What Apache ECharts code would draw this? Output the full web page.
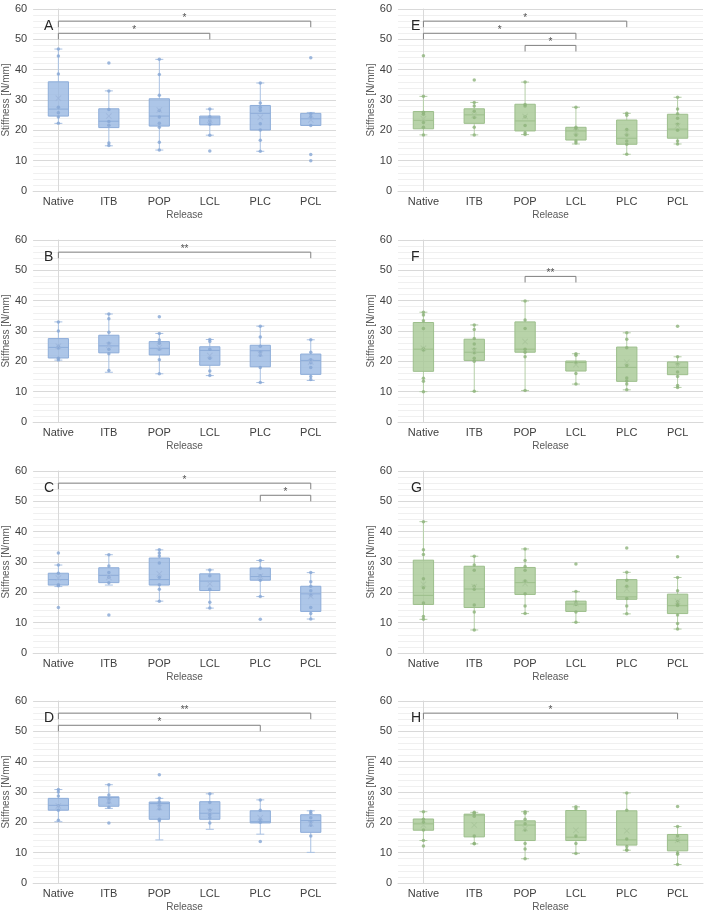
<!DOCTYPE html>
<html><head><meta charset="utf-8">
<script src="https://cdn.jsdelivr.net/npm/echarts@6/dist/echarts.min.js"></script>
<style>html,body{margin:0;padding:0;background:#fff}#c{width:709px;height:916px}</style>
</head><body><div id="c"></div>
<script>
const categories = ['Native','ITB','POP','LCL','PLC','PCL'];
const panelLetters = ['A','B','C','D','E','F','G','H'];
const yTicks = [0,10,20,30,40,50,60];

// boxes: [min, Q1, median, Q3, max] per category
const boxA = [[22.3,24.7,27.0,36.0,46.8],[14.9,20.9,23.0,27.1,33.0],[13.5,21.4,24.7,30.4,43.4],[18.4,21.8,24.1,24.7,27.0],[13.1,20.1,25.6,28.2,35.6],[21.6,21.6,23.8,25.6,25.9]];
const meanA = [30.6,24.7,26.7,23.3,24.3,23.4];
const ptsA = [[46.8,44.5,38.6,27.6,25.8,24.4,22.3],[42.2,33.0,26.9,22.9,21.7,15.8,15.0],[43.4,38.4,31.6,26.5,24.4,22.3,21.0,16.1,13.5],[27.0,24.5,23.1,22.0,18.4,13.2],[35.6,29.0,27.5,26.5,22.2,20.1,16.7,13.1],[43.9,25.5,24.5,21.6,12.0,10.0]];

const boxB = [[20.4,21.1,24.6,27.5,33.0],[16.4,22.8,25.1,28.6,35.6],[15.9,22.1,24.3,26.5,29.2],[15.3,18.7,23.6,24.8,27.2],[13.0,18.2,23.5,25.3,31.6],[13.7,15.7,20.3,22.4,27.1]];
const meanB = [25.0,25.3,24.6,21.9,22.5,19.8];
const ptsB = [[33.0,30.0,25.0,24.4,21.0,20.4],[35.6,34.0,29.6,26.0,24.0,22.5,17.0],[34.7,29.2,27.0,26.0,24.0,20.5,15.9],[27.2,26.5,24.0,21.0,16.8,15.3],[31.6,28.0,25.0,23.0,22.0,18.0,13.0],[27.1,23.0,20.5,19.5,18.0,15.0,14.0]];

const boxC = [[21.9,22.4,24.2,26.3,29.0],[22.4,23.2,25.6,28.1,32.4],[17.1,22.4,24.2,31.3,34.0],[14.8,20.6,23.7,26.1,27.4],[18.6,24.0,25.2,28.0,30.5],[11.2,13.7,19.5,22.0,26.5]];
const meanC = [24.7,24.9,26.1,22.8,25.3,18.7];
const ptsC = [[33.0,29.0,26.3,22.5,22.2,15.0],[32.4,28.7,26.5,25.0,23.2,12.5],[34.0,33.0,32.0,29.7,25.0,22.5,21.0,17.1],[27.4,25.5,21.0,16.7,14.8],[30.5,28.0,25.5,24.0,18.6,11.1],[26.5,23.5,22.0,20.5,19.0,15.0,13.0,11.2]];

const boxD = [[20.2,24.0,25.6,27.9,30.8],[24.6,25.3,28.2,28.4,32.4],[14.2,21.0,26.2,26.7,27.9],[17.7,21.0,23.0,26.8,29.4],[16.1,19.8,20.2,23.8,27.4],[10.1,16.7,20.6,22.5,23.8]];
const meanD = [25.4,27.1,24.9,23.6,21.5,19.5];
const ptsD = [[30.8,30.0,28.7,25.5,24.0,20.7],[32.4,29.0,27.5,26.5,25.0,19.8],[35.7,27.9,26.8,25.5,24.5,21.0,20.5],[29.4,26.5,24.0,22.5,21.5,19.8],[27.4,24.0,21.0,20.0,13.7],[23.6,23.0,21.5,20.0,19.0,15.5]];

const boxE = [[18.5,20.5,23.3,26.2,31.2],[18.5,22.3,25.1,27.1,29.2],[18.6,19.8,23.1,28.6,35.9],[15.5,16.8,19.8,21.0,27.6],[12.1,15.4,17.4,23.4,25.6],[15.5,17.4,20.4,25.3,30.9]];
const meanE = [23.8,25.0,24.6,19.5,19.3,21.5];
const ptsE = [[44.6,31.2,26.0,25.3,22.6,21.0,18.5],[36.6,29.2,28.0,26.3,24.2,21.0,18.5],[35.9,28.5,28.0,24.5,21.6,19.2,18.6],[27.6,21.0,20.5,18.5,16.5,15.8],[25.6,25.0,20.3,18.5,16.5,15.4,12.1],[30.9,27.0,25.5,24.0,22.0,20.0,16.5,15.5]];

const boxF = [[10.0,16.7,24.0,32.8,36.2],[10.1,20.3,23.0,27.3,32.0],[10.4,23.0,24.0,33.0,39.9],[12.5,16.8,19.6,20.1,22.5],[10.6,13.4,18.0,24.7,29.4],[11.4,15.6,18.0,19.8,21.5]];
const meanF = [24.3,23.5,26.5,18.9,19.7,18.6];
const ptsF = [[36.2,35.3,33.4,30.8,24.2,23.7,14.4,13.4,10.0],[32.0,30.5,27.5,25.7,24.0,22.8,21.0,20.0,10.1],[39.9,33.6,30.8,24.0,23.0,21.5,10.4],[22.5,22.0,19.5,16.0,12.5],[29.4,27.3,24.5,18.6,14.5,13.5,12.5,10.6],[31.6,21.5,19.0,16.5,15.0,12.0,11.4]];

const boxG = [[11.1,16.0,19.0,30.6,43.3],[7.6,15.0,21.1,28.6,31.9],[13.0,19.3,23.2,28.2,34.3],[10.1,13.7,16.1,17.1,20.3],[12.9,17.7,18.5,24.2,26.6],[7.9,13.0,15.6,19.4,24.9]];
const meanG = [22.7,21.8,22.9,16.3,21.1,17.0];
const ptsG = [[43.3,34.0,32.5,24.5,21.5,16.5,12.0,11.1],[31.9,29.0,27.3,22.0,21.0,15.8,13.5,7.6],[34.3,30.5,28.5,27.3,23.7,19.5,15.5,13.0],[29.3,20.3,16.8,16.0,13.5,10.1],[34.6,26.6,24.0,22.0,18.0,15.5,12.9],[31.7,24.9,20.5,17.0,16.0,15.7,12.5,9.7,7.9]];

const boxH = [[14.0,17.4,19.5,21.1,23.5],[12.9,15.2,22.4,22.7,23.3],[8.0,14.0,19.1,20.5,23.5],[9.7,14.0,15.1,23.9,25.1],[10.8,12.5,14.2,23.8,29.7],[6.1,10.6,14.1,16.0,18.6]];
const meanH = [19.1,19.1,18.0,17.4,17.2,14.1];
const ptsH = [[23.5,21.0,20.0,17.5,14.0,12.2],[23.3,23.0,22.0,15.5,13.0,12.9],[23.5,23.0,21.0,19.5,17.5,13.0,11.2,8.0],[25.1,24.5,15.5,13.0,9.7],[29.7,24.0,14.5,12.0,11.0,10.8],[25.2,18.6,15.5,14.0,10.0,9.5,6.1]];

// significance brackets: [fromIndex, toIndex, level, label]
const sigA = [[0,5,56,'*'],[0,3,52,'*']];
const sigB = [[0,5,56,'**']];
const sigC = [[0,5,56,'*'],[4,5,52,'*']];
const sigD = [[0,5,56,'**'],[0,4,52,'*']];
const sigE = [[0,4,56,'*'],[0,3,52,'*'],[2,3,48,'*']];
const sigF = [[2,3,48,'**']];
const sigG = [];
const sigH = [[0,5,56,'*']];

const panels = [
  {box:boxA, mean:meanA, pts:ptsA, sig:sigA},
  {box:boxB, mean:meanB, pts:ptsB, sig:sigB},
  {box:boxC, mean:meanC, pts:ptsC, sig:sigC},
  {box:boxD, mean:meanD, pts:ptsD, sig:sigD},
  {box:boxE, mean:meanE, pts:ptsE, sig:sigE},
  {box:boxF, mean:meanF, pts:ptsF, sig:sigF},
  {box:boxG, mean:meanG, pts:ptsG, sig:sigG},
  {box:boxH, mean:meanH, pts:ptsH, sig:sigH}
];

const FONT = 'Liberation Sans, Arial, sans-serif';
const lefts = [31, 398];
const tops = [9, 240, 471, 701];
const W = 305, H = 182;
const themes = [
  {fill:'rgba(150,182,226,0.78)', border:'#8eadd9', whisk:'#a9c1e3', pt:'#86a6d4', mean:'#9db6dc'},
  {fill:'rgba(166,200,148,0.80)', border:'#9dbf8c', whisk:'#b5cfa8', pt:'#8db37a', mean:'#a8c59a'}
];
const xMark = 'path://M0,1L1,0L5,4L9,0L10,1L6,5L10,9L9,10L5,6L1,10L0,9L4,5Z';

function makeBoxRenderer(th){
  return function(params, api){
    const x = api.value(0);
    const pMin = api.coord([x, api.value(1)]);
    const pQ1 = api.coord([x, api.value(2)]);
    const pMed = api.coord([x, api.value(3)]);
    const pQ3 = api.coord([x, api.value(4)]);
    const pMax = api.coord([x, api.value(5)]);
    const bw = api.size([1,0])[0]*0.4;
    const cw = 8;
    const cx = pMed[0];
    const ls = {stroke:th.whisk, lineWidth:1};
    return {type:'group', children:[
      {type:'line', shape:{x1:cx,y1:pMax[1],x2:cx,y2:pQ3[1]}, style:ls},
      {type:'line', shape:{x1:cx,y1:pQ1[1],x2:cx,y2:pMin[1]}, style:ls},
      {type:'line', shape:{x1:cx-cw/2,y1:pMax[1],x2:cx+cw/2,y2:pMax[1]}, style:ls},
      {type:'line', shape:{x1:cx-cw/2,y1:pMin[1],x2:cx+cw/2,y2:pMin[1]}, style:ls},
      {type:'rect', shape:{x:cx-bw/2, y:pQ3[1], width:bw, height:pQ1[1]-pQ3[1]},
        style:{fill:th.fill, stroke:th.border, lineWidth:1}},
      {type:'line', shape:{x1:cx-bw/2,y1:pMed[1],x2:cx+bw/2,y2:pMed[1]}, style:{stroke:th.border, lineWidth:1}}
    ]};
  };
}

const grid=[], xAxis=[], yAxis=[], series=[], title=[];
panels.forEach((p,i)=>{
  const col = i<4?0:1, row = i%4;
  const th = themes[col];
  grid.push({left:lefts[col], top:tops[row], width:W, height:H, containLabel:false});
  xAxis.push({type:'category', gridIndex:i, data:categories, boundaryGap:true,
    name:'Release', nameLocation:'middle', nameGap:19,
    nameTextStyle:{fontFamily:FONT, fontSize:10, color:'#595959'},
    axisLine:{show:true, lineStyle:{color:'#d9d9d9'}}, axisTick:{show:false},
    axisLabel:{fontFamily:FONT, fontSize:11, color:'#404040', margin:5},
    splitLine:{show:false}});
  xAxis.push({type:'value', gridIndex:i, min:-0.5, max:5.5, show:false});
  yAxis.push({type:'value', gridIndex:i, min:yTicks[0], max:yTicks[yTicks.length-1], interval:10,
    name:'Stiffness [N/mm]', nameLocation:'middle', nameGap: col===0?20:22,
    nameTextStyle:{fontFamily:FONT, fontSize:10, color:'#595959'},
    axisLine:{show:true, lineStyle:{color:'#d9d9d9'}}, axisTick:{show:false},
    axisLabel:{fontFamily:FONT, fontSize:11, color:'#404040', margin:6},
    splitLine:{show:true, lineStyle:{color:'#d9d9d9', width:1}},
    minorTick:{show:false, splitNumber:5},
    minorSplitLine:{show:true, lineStyle:{color:'#f0f0f0', width:1}}});
  const cx = 2*i, vx = 2*i+1;
  title.push({text:panelLetters[i], left:lefts[col]+8, top:tops[row]+5,
    textStyle:{fontFamily:FONT, fontSize:14, fontWeight:'normal', color:'#262626'}});
  series.push({type:'custom', xAxisIndex:cx, yAxisIndex:i,
    data:p.box.map((b,k)=>[k].concat(b)),
    encode:{x:0, y:[1,2,3,4,5]},
    renderItem:makeBoxRenderer(th), silent:true});
  const pd=[];
  p.pts.forEach((arr,k)=>arr.forEach(v=>pd.push([k,v])));
  series.push({type:'scatter', xAxisIndex:cx, yAxisIndex:i, data:pd, symbol:'circle', symbolSize:3.5,
    itemStyle:{color:th.pt, opacity:0.8}, silent:true});
  series.push({type:'scatter', xAxisIndex:cx, yAxisIndex:i, data:p.mean.map((v,k)=>[k,v]), symbol:xMark, symbolSize:6,
    itemStyle:{color:th.mean, opacity:0.9}, silent:true});
  p.sig.forEach(s=>{
    const [a,b,lv,lab]=s;
    series.push({type:'line', xAxisIndex:vx, yAxisIndex:i, data:[[a,lv-2],[a,lv],[b,lv],[b,lv-2]],
      symbol:'none', lineStyle:{color:'#808080', width:1}, silent:true, animation:false});
    series.push({type:'scatter', xAxisIndex:vx, yAxisIndex:i, data:[[(a+b)/2, lv]], symbolSize:0,
      label:{show:true, formatter:lab, position:'top', distance:-2, fontFamily:FONT, fontSize:10, color:'#262626'}, silent:true});
  });
});

const chart = echarts.init(document.getElementById('c'), null, {renderer:'canvas'});
chart.setOption({animation:false, backgroundColor:'#fff', title, grid, xAxis, yAxis, series});
</script></body></html>
